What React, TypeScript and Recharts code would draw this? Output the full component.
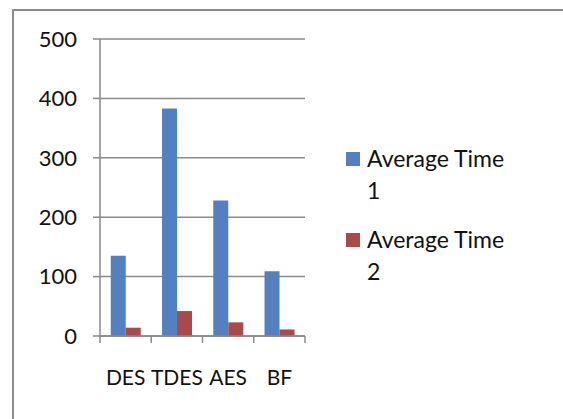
import { BarChart, Bar, XAxis, YAxis, CartesianGrid } from "recharts";

const categories = ["DES", "TDES", "AES", "BF"];
const averageTime1 = [135, 383, 228, 109];
const averageTime2 = [14, 42, 23, 11];
const yTicks = [0, 100, 200, 300, 400, 500];

const seriesNames = ["Average Time 1", "Average Time 2"];
const seriesColors = ["#5580C0", "#A84A4A"];

const data = categories.map((name, i) => ({
  name,
  t1: averageTime1[i],
  t2: averageTime2[i],
}));

const FONT = "Lato, 'Open Sans', sans-serif";
const W = 563;
const H = 419;
const MARGIN_RIGHT = 258;
const Y_AXIS_W = 100;
const band = (W - Y_AXIS_W - MARGIN_RIGHT) / categories.length;

const CategoryTick = (props: any) => {
  const { x, y, payload, index } = props;
  const left = x - band / 2;
  return (
    <g>
      <line x1={left} y1={y} x2={left} y2={y + 7} stroke="#8a8a8a" strokeWidth={1.5} />
      {index === categories.length - 1 && (
        <line x1={left + band} y1={y} x2={left + band} y2={y + 7} stroke="#8a8a8a" strokeWidth={1.5} />
      )}
      <text x={x} y={y + 42} dy="0.35em" textAnchor="middle" fill="#111" fontSize={21} fontFamily={FONT}>
        {payload.value}
      </text>
    </g>
  );
};

export default function App() {
  return (
    <div style={{ position: "absolute", left: 0, top: 0, width: W, height: H, background: "#fff", overflow: "hidden" }}>
      <div
        style={{
          position: "absolute",
          left: 12,
          top: 9,
          width: W + 20,
          height: H + 20,
          border: "2px solid #8c8c8c",
          boxSizing: "border-box",
        }}
      />
      <div style={{ position: "absolute", left: 0, top: 0 }}>
        <BarChart
          width={W}
          height={H}
          data={data}
          margin={{ top: 39, right: MARGIN_RIGHT, left: 0, bottom: 0 }}
          barCategoryGap="21%"
          barGap={0}
        >
          <CartesianGrid vertical={false} stroke="#8a8a8a" strokeWidth={1.5} />
          <XAxis
            dataKey="name"
            height={83}
            axisLine={{ stroke: "#8a8a8a", strokeWidth: 1.5 }}
            tickLine={false}
            tickSize={0}
            tickMargin={0}
            tick={<CategoryTick />}
            interval={0}
          />
          <YAxis
            width={Y_AXIS_W}
            domain={[0, 500]}
            ticks={yTicks}
            interval={0}
            axisLine={{ stroke: "#8a8a8a", strokeWidth: 1.5 }}
            tickLine={{ stroke: "#8a8a8a", strokeWidth: 1.5 }}
            tickSize={7}
            tickMargin={16}
            tick={{ fill: "#111", fontSize: 22, fontFamily: FONT }}
          />
          <Bar dataKey="t1" name={seriesNames[0]} fill={seriesColors[0]} isAnimationActive={false} />
          <Bar dataKey="t2" name={seriesNames[1]} fill={seriesColors[1]} isAnimationActive={false} />
        </BarChart>
      </div>
      {seriesNames.map((name, i) => (
        <div
          key={name}
          style={{
            position: "absolute",
            left: 346,
            top: 142 + i * 81,
            display: "flex",
            alignItems: "flex-start",
            fontFamily: FONT,
            fontSize: 23,
            lineHeight: "32px",
            color: "#111",
          }}
        >
          <div style={{ width: 14, height: 14, marginTop: 10, background: seriesColors[i], flexShrink: 0 }} />
          <div style={{ marginLeft: 7, width: 142 }}>{name}</div>
        </div>
      ))}
    </div>
  );
}
